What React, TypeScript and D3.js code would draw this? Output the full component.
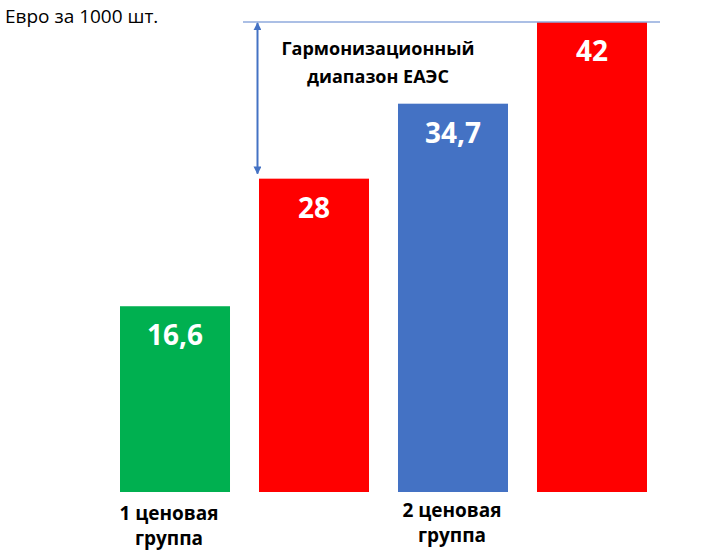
import React from "react";
import * as d3 from "d3";

const categories = ["a", "b", "c", "d"];
const values = [16.6, 28, 34.7, 42];
const valueLabels = ["16,6", "28", "34,7", "42"];
const colors = ["#00B050", "#FF0000", "#4472C4", "#FF0000"];
const groupLabels = [
  { index: 0, lines: ["1 ценовая", "группа"], dy: 0, dx: -6 },
  { index: 2, lines: ["2 ценовая", "группа"], dy: -3, dx: -1 },
];
const unitLabel = "Евро за 1000 шт.";
const rangeLines = ["Гармонизационный", "диапазон ЕАЭС"];

const W = 720;
const H = 558;

export default function App() {
  const x = d3.scaleBand<string>().domain(categories).range([120, 647]).paddingInner(0.2086).paddingOuter(0);
  const y = d3.scaleLinear().domain([0, 42]).range([492, 22]);
  const font = "'Open Sans', 'Noto Sans', sans-serif";
  const arrowX = x("b")! - 1.5;
  const topY = y(values[3]);
  const lowY = y(values[1]) - 5;
  return (
    <svg width={W} height={H} style={{ position: "absolute", left: 0, top: 0, background: "#fff" }}>
      <defs>
        <marker id="ah" viewBox="0 0 10 10" refX="9" refY="5" markerWidth="4" markerHeight="4" orient="auto-start-reverse">
          <path d="M0,0 L10,5 L0,10 z" fill="#4472C4" />
        </marker>
      </defs>
      <text x={5} y={23} fontFamily={font} fontSize={19} fill="#000">{unitLabel}</text>
      {categories.map((c, i) => (
        <rect key={c} x={x(c)} y={y(values[i])} width={x.bandwidth()} height={y(0) - y(values[i])} fill={colors[i]} />
      ))}
      {categories.map((c, i) => (
        <text key={"v" + c} x={x(c)! + x.bandwidth() / 2} y={y(values[i]) + 39} textAnchor="middle"
          fontFamily={font} fontWeight="bold" fontSize={28} fill="#fff">{valueLabels[i]}</text>
      ))}
      <line x1={243} x2={660} y1={topY} y2={topY} stroke="#8FAADC" strokeWidth={1.5} />
      <line x1={arrowX} x2={arrowX} y1={topY + 1} y2={lowY} stroke="#4472C4" strokeWidth={2}
        markerStart="url(#ah)" markerEnd="url(#ah)" />
      {rangeLines.map((t, i) => (
        <text key={t} x={378} y={55 + i * 28} textAnchor="middle" fontFamily={font} fontWeight="bold"
          fontSize={18} fill="#000">{t}</text>
      ))}
      {groupLabels.map((g) =>
        g.lines.map((t, j) => (
          <text key={g.index + t} x={x(categories[g.index])! + x.bandwidth() / 2 + g.dx}
            y={520 + g.dy + j * 25} textAnchor="middle" fontFamily={font} fontWeight="bold" fontSize={19} fill="#000">{t}</text>
        ))
      )}
    </svg>
  );
}
